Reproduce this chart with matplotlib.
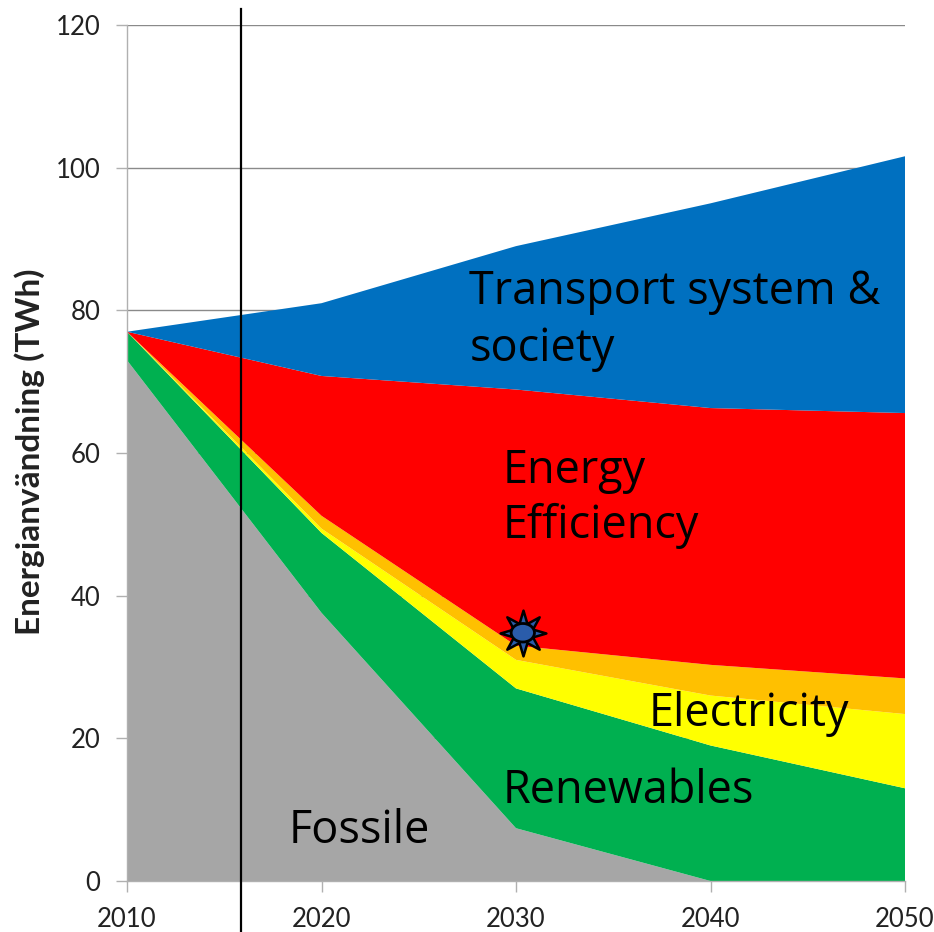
import matplotlib
matplotlib.use("Agg")
import matplotlib.pyplot as plt
from matplotlib.lines import Line2D
from matplotlib.patches import Ellipse
from matplotlib.path import Path

years = [2010, 2020, 2030, 2040, 2050]
fossil = [73.0, 37.6, 7.4, 0.0, 0.0]
renewables = [4.0, 11.2, 19.6, 19.0, 13.0]
electricity = [0.0, 0.6, 4.0, 7.0, 10.4]
biofuel = [0.0, 1.8, 2.0, 4.3, 5.0]
efficiency = [0.0, 19.6, 35.9, 36.0, 37.2]
transport = [0.0, 10.2, 20.1, 28.7, 36.0]

colors = ["#a6a6a6", "#00b050", "#ffff00", "#ffc000", "#ff0000", "#0070c0"]
y_ticks = [0, 20, 40, 60, 80, 100, 120]
x_ticks = [2010, 2020, 2030, 2040, 2050]

W, H = 934, 932
fig = plt.figure(figsize=(W / 100, H / 100), dpi=100, facecolor="white")
ax = fig.add_axes([127 / W, 1 - 881 / H, (905 - 127) / W, (881 - 25) / H])

ax.stackplot(years, fossil, renewables, electricity, biofuel, efficiency, transport,
             colors=colors, linewidth=0, zorder=2)

ax.set_xlim(2010, 2050)
ax.set_ylim(0, 120)
ax.set_xticks(x_ticks)
ax.set_yticks(y_ticks)
ax.grid(axis="y", color="#8a8a8a", linewidth=1.0, zorder=1)
ax.set_axisbelow(True)

for side in ("top", "right"):
    ax.spines[side].set_visible(False)
for side in ("left", "bottom"):
    ax.spines[side].set_color("#b0b0b0")
    ax.spines[side].set_linewidth(1.0)
ax.tick_params(axis="both", length=8, width=1.0, color="#b0b0b0",
               labelsize=18.5, labelcolor="#222222")
ax.tick_params(axis="x", pad=11)
ax.tick_params(axis="y", pad=11)
for label in ax.get_xticklabels() + ax.get_yticklabels():
    label.set_family("Lato")

fig.text(30 / W, 1 - 452 / H, "Energianvändning (TWh)", rotation=90, ha="center",
         va="center", family="Lato", fontweight="bold", fontsize=24, color="#222222")

# Area labels
label_font = dict(family="Open Sans", fontsize=32.4, color="black", ha="left", va="center")
ax.text(2027.6, 82.6, "Transport system &", **label_font)
ax.text(2027.6, 74.6, "society", **label_font)
ax.text(2029.3, 57.5, "Energy", **label_font)
ax.text(2029.3, 49.8, "Efficiency", **label_font)
ax.text(2036.8, 23.4, "Electricity", **label_font)
ax.text(2029.3, 12.6, "Renewables", **label_font)
ax.text(2018.3, 7.0, "Fossile", **label_font)

# Vertical marker for the present day, running past the top of the axes
fig.add_artist(Line2D([241 / W, 241 / W], [0, 1 - 9 / H], color="black", linewidth=1.6))

# Sun symbol at 2030
sun_x, sun_y = 2030.35, 34.8
star = Path.unit_regular_star(8, innerCircle=0.45)
ax.plot([sun_x], [sun_y], marker=star, markersize=33, markerfacecolor="#2a5caa",
        markeredgecolor="black", markeredgewidth=1.8, linestyle="none", zorder=5)
ax.add_patch(Ellipse((sun_x, sun_y), 1.2, 2.6, facecolor="#2a5caa",
                     edgecolor="black", linewidth=2.0, zorder=6))

fig.savefig("out.png", dpi=100)
